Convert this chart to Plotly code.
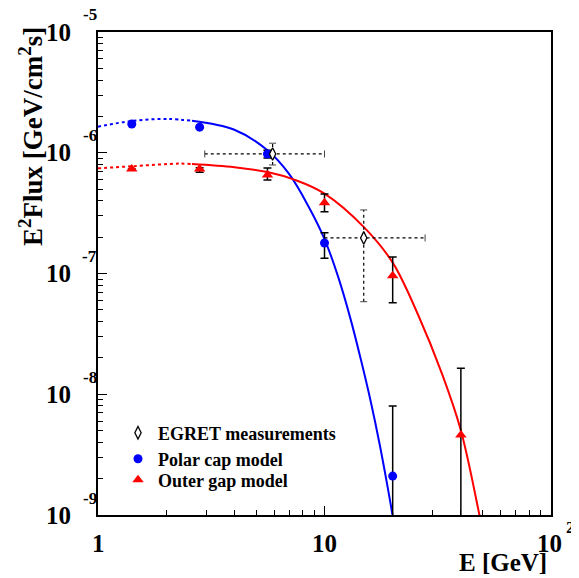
import math
import plotly.graph_objects as go

# ---------------- data ----------------
egret_E = [5.9, 14.9]
egret_F = [9.77e-7, 1.97e-7]
egret_E_lo = [2.96, 10.0]
egret_E_hi = [10.0, 27.8]
egret_F_lo = [7.92e-7, 5.84e-8]
egret_F_hi = [1.20e-6, 3.36e-7]

polar_E = [1.41, 2.81, 5.6, 10.0, 20.0]
polar_F = [1.73e-6, 1.63e-6, 9.77e-7, 1.79e-7, 2.1e-9]
polar_F_lo = [None, None, 9.05e-7, 1.34e-7, 1e-10]
polar_F_hi = [None, None, 1.05e-6, 2.18e-7, 8.0e-9]

outer_E = [1.41, 2.81, 5.6, 10.0, 20.0, 40.0]
outer_F = [7.33e-7, 7.33e-7, 6.54e-7, 3.86e-7, 9.59e-8, 4.6e-9]
outer_F_lo = [None, 6.9e-7, 5.95e-7, 3.25e-7, 5.73e-8, 1e-10]
outer_F_hi = [None, 7.5e-7, 7.48e-7, 4.55e-7, 1.37e-7, 1.64e-8]

# model curves (dotted below the split energy, solid above)
polar_curve_E = [1.0, 1.41, 2.04, 2.6, 4.0, 5.6, 7.0, 8.5, 10.0, 11.5, 13.0, 14.5, 16.0, 17.5, 19.0, 20.0, 21.0]
polar_curve_F = [1.644e-6, 1.832e-6, 1.905e-6, 1.84e-6, 1.549e-6, 1.047e-6, 6.61e-7, 3.59e-7, 1.93e-7,
                 9.33e-8, 4.27e-8, 1.91e-8, 8.71e-9, 3.89e-9, 1.70e-9, 9.77e-10, 5.37e-10]
outer_curve_E = [1.0, 1.41, 2.26, 2.6, 4.0, 5.6, 7.4, 10.0, 15.0, 20.0, 26.0, 33.0, 40.0, 48.2, 52.0]
outer_curve_F = [7.43e-7, 7.73e-7, 8.13e-7, 8.07e-7, 7.59e-7, 6.92e-7, 5.96e-7, 4.59e-7, 2.40e-7,
                 1.23e-7, 4.47e-8, 1.48e-8, 5.01e-9, 1.02e-9, 4.9e-10]
polar_split = 2.6
outer_split = 2.6

x_tick_vals = [1, 10, 100]
x_tick_text = ["1", "10", "10"]
y_tick_exps = [-5, -6, -7, -8, -9]

FONT = "Liberation Serif"


def err(vals, bound, upper):
    out = []
    for v, b in zip(vals, bound):
        if b is None:
            out.append(None)
        else:
            out.append(b - v if upper else v - b)
    return out


fig = go.Figure()

# curves
for E, F, split, col in [(polar_curve_E, polar_curve_F, polar_split, "#0000ff"),
                         (outer_curve_E, outer_curve_F, outer_split, "#ff0000")]:
    dE = [e for e in E if e <= split]
    dF = [f for e, f in zip(E, F) if e <= split]
    sE = [e for e in E if e >= split]
    sF = [f for e, f in zip(E, F) if e >= split]
    fig.add_trace(go.Scatter(x=dE, y=dF, mode="lines", line=dict(color=col, width=2, dash="dot", shape="spline"),
                             showlegend=False, hoverinfo="skip"))
    fig.add_trace(go.Scatter(x=sE, y=sF, mode="lines", line=dict(color=col, width=2, shape="spline"),
                             showlegend=False, hoverinfo="skip"))

# EGRET dotted error bars
for i in range(len(egret_E)):
    fig.add_trace(go.Scatter(x=[egret_E_lo[i], egret_E_hi[i]], y=[egret_F[i], egret_F[i]], mode="lines",
                             line=dict(color="black", width=1.2, dash="dot"), showlegend=False, hoverinfo="skip"))
    fig.add_trace(go.Scatter(x=[egret_E[i], egret_E[i]], y=[egret_F_lo[i], egret_F_hi[i]], mode="lines",
                             line=dict(color="black", width=1.2, dash="dot"), showlegend=False, hoverinfo="skip"))
fig.add_trace(go.Scatter(x=egret_E_lo + egret_E_hi, y=egret_F + egret_F, mode="markers",
                         marker=dict(symbol="line-ns-open", size=5, color="#444", line=dict(color="#444", width=1)),
                         showlegend=False, hoverinfo="skip"))
fig.add_trace(go.Scatter(x=egret_E + egret_E, y=egret_F_lo + egret_F_hi, mode="markers",
                         marker=dict(symbol="line-ew-open", size=5, color="#444", line=dict(color="#444", width=1)),
                         showlegend=False, hoverinfo="skip"))

# model points
fig.add_trace(go.Scatter(
    x=polar_E, y=polar_F, mode="markers", name="<b>Polar cap model</b>", legend="legend2",
    marker=dict(symbol="circle", size=9, color="#0000ff"),
    error_y=dict(type="data", symmetric=False, array=err(polar_F, polar_F_hi, True),
                 arrayminus=err(polar_F, polar_F_lo, False), color="black", thickness=1.5, width=4)))
fig.add_trace(go.Scatter(
    x=outer_E, y=outer_F, mode="markers", name="<b>Outer gap model</b>", legend="legend3",
    marker=dict(symbol="triangle-up", size=10, color="#ff0000"),
    error_y=dict(type="data", symmetric=False, array=err(outer_F, outer_F_hi, True),
                 arrayminus=err(outer_F, outer_F_lo, False), color="black", thickness=1.5, width=4)))
fig.add_trace(go.Scatter(
    x=egret_E, y=egret_F, mode="markers", name="<b>EGRET measurements</b>", legend="legend",
    marker=dict(symbol="diamond-tall", size=9, color="white", line=dict(color="black", width=1.3))))

# ---------------- layout ----------------
OFF = 8                      # page body margin of the html page
W, H = 579 - OFF, 578 - OFF  # figure size so that it fits the window
L, R, T, B = 98, 551, 32, 515  # plot area in window pixels
pw, ph = R - L, B - T


def px_x(px):
    return (px - L) / pw


def px_y(py):
    return (B - py) / ph


annotations = []
for k in y_tick_exps:
    py = T + (-5 - k) / 4 * ph
    annotations.append(dict(text="<b>10</b>", x=px_x(58), y=px_y(py), xref="paper", yref="paper",
                            xanchor="center", yanchor="middle", showarrow=False,
                            font=dict(family=FONT, size=25, color="black")))
    annotations.append(dict(text="<b>%d</b>" % k, x=px_x(89.5), y=px_y(py - 17), xref="paper", yref="paper",
                            xanchor="center", yanchor="middle", showarrow=False,
                            font=dict(family=FONT, size=17, color="black")))
for v, t in zip(x_tick_vals, x_tick_text):
    px = L + math.log10(v) / 2 * pw
    if v == 100:
        px = 549.5
    annotations.append(dict(text="<b>%s</b>" % t, x=px_x(px), y=px_y(543), xref="paper", yref="paper",
                            xanchor="center", yanchor="middle", showarrow=False,
                            font=dict(family=FONT, size=25, color="black")))
annotations.append(dict(text="<b>2</b>", x=px_x(570), y=px_y(527), xref="paper", yref="paper",
                        xanchor="center", yanchor="middle", showarrow=False,
                        font=dict(family=FONT, size=17, color="black")))
annotations.append(dict(text="<b>E [GeV]</b>", x=px_x(549), y=px_y(562), xref="paper", yref="paper",
                        xanchor="right", yanchor="middle", showarrow=False,
                        font=dict(family=FONT, size=25, color="black")))
annotations.append(dict(text="<b>E<sup>2</sup>Flux [GeV/cm<sup>2</sup>s]</b>", x=px_x(31), y=px_y(137),
                        xref="paper", yref="paper", xanchor="center", yanchor="middle", textangle=-90,
                        showarrow=False, font=dict(family=FONT, size=27, color="black")))

x_minor = [m * d for d in (1, 10) for m in range(2, 10)]
y_minor = [m * 10.0 ** e for e in range(-9, -5) for m in range(2, 10)]

axis_common = dict(showline=True, linecolor="black", linewidth=1.5, mirror=True, ticks="inside",
                   ticklen=9, tickwidth=1.2, tickcolor="black", showticklabels=False,
                   showgrid=False, zeroline=False)

legend_common = dict(xanchor="left", yanchor="middle", bgcolor="rgba(0,0,0,0)", borderwidth=0,
                     font=dict(family=FONT, size=18, color="black"))

fig.update_layout(
    width=W, height=H,
    margin=dict(l=L - OFF, r=(W + OFF) - R, t=T - OFF, b=(H + OFF) - B, pad=0),
    paper_bgcolor="white", plot_bgcolor="white",
    xaxis=dict(type="log", range=[0, 2], tickvals=x_tick_vals,
               minor=dict(tickvals=x_minor, ticks="inside", ticklen=5, tickwidth=1.2, tickcolor="black",
                          showgrid=False),
               **axis_common),
    yaxis=dict(type="log", range=[-9, -5], tickvals=[10.0 ** k for k in y_tick_exps],
               minor=dict(tickvals=y_minor, ticks="inside", ticklen=5, tickwidth=1.2, tickcolor="black",
                          showgrid=False),
               **axis_common),
    legend=dict(x=px_x(118), y=px_y(433), **legend_common),
    legend2=dict(x=px_x(118), y=px_y(459), **legend_common),
    legend3=dict(x=px_x(118), y=px_y(480), **legend_common),
    annotations=annotations,
    showlegend=True,
)

fig.write_html("out.html")
